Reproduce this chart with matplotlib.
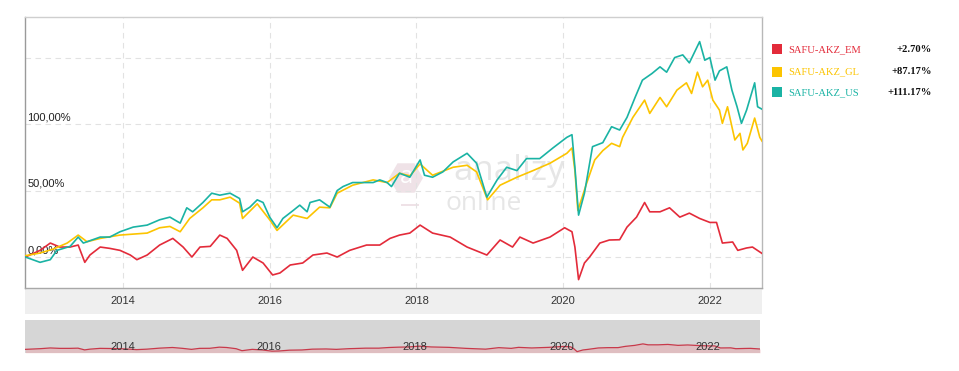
import numpy as np
import matplotlib
matplotlib.use("Agg")
import matplotlib.pyplot as plt
import matplotlib.transforms as mtransforms
from matplotlib.patches import Rectangle, Polygon

# ---------------- data (decimal years, % change) ----------------
em_dates = [2012.67, 2012.87, 2013.01, 2013.14, 2013.28, 2013.39, 2013.48, 2013.55, 2013.69, 2013.82,
            2013.96, 2014.10, 2014.19, 2014.33, 2014.50, 2014.68, 2014.82, 2014.94, 2015.05, 2015.19,
            2015.32, 2015.42, 2015.55, 2015.63, 2015.77, 2015.91, 2016.04, 2016.14, 2016.28, 2016.45,
            2016.59, 2016.78, 2016.92, 2017.09, 2017.32, 2017.50, 2017.64, 2017.77, 2017.91, 2018.05,
            2018.22, 2018.46, 2018.69, 2018.96, 2019.14, 2019.31, 2019.41, 2019.59, 2019.82, 2020.02,
            2020.12, 2020.16, 2020.21, 2020.29, 2020.36, 2020.50, 2020.63, 2020.77, 2020.87, 2021.00,
            2021.11, 2021.18, 2021.32, 2021.45, 2021.59, 2021.72, 2021.86, 2022.00, 2022.09, 2022.17,
            2022.31, 2022.38, 2022.50, 2022.58, 2022.71]
em_values = [0, 5, 10.5, 7.5, 7.5, 9, -4, 1.5, 7.5, 6.5,
             5, 1.5, -2, 1.5, 9, 14, 7.5, 0, 7.5, 8,
             16.5, 14, 5, -10, 0, -4.5, -13.5, -12, -6, -4.5,
             1.5, 3, 0, 5, 9, 9, 14, 16.5, 18, 24,
             18, 15, 7.5, 1.5, 12.8, 7.5, 15, 10.5, 15, 22,
             19, 7.5, -17, -4.5, 0, 10.5, 12.8, 13, 22.5, 30,
             41, 34, 34, 37, 30, 33, 29, 26, 26, 10.5,
             11.3, 5, 6.8, 7.5, 2.7]

gl_dates = [2012.67, 2012.87, 2013.05, 2013.24, 2013.39, 2013.51, 2013.69, 2013.96, 2014.33, 2014.50,
            2014.64, 2014.78, 2014.91, 2015.09, 2015.21, 2015.32, 2015.46, 2015.59, 2015.63, 2015.83,
            2016.00, 2016.10, 2016.32, 2016.51, 2016.68, 2016.82, 2016.92, 2017.13, 2017.41, 2017.60,
            2017.77, 2017.91, 2018.05, 2018.22, 2018.50, 2018.69, 2018.82, 2018.97, 2019.14, 2019.37,
            2019.59, 2019.82, 2020.05, 2020.12, 2020.16, 2020.20, 2020.32, 2020.43, 2020.54, 2020.66,
            2020.77, 2020.81, 2020.95, 2021.11, 2021.18, 2021.32, 2021.41, 2021.55, 2021.68, 2021.75,
            2021.83, 2021.90, 2021.97, 2022.04, 2022.13, 2022.17, 2022.24, 2022.34, 2022.41, 2022.45,
            2022.51, 2022.61, 2022.68, 2022.71]
gl_values = [1, 3, 6, 10.5, 16.5, 11.5, 14, 16.5, 18, 22,
             23, 19, 29, 37, 43, 43, 45, 40.5, 29, 40,
             28, 20, 31.5, 29, 37.5, 37, 48, 54, 58, 56,
             63, 61, 70, 61.5, 67.5, 69, 64, 43, 54, 60,
             65, 70.5, 78, 82, 65, 35, 55.5, 73, 80, 85.5,
             83, 90, 105, 118, 108, 120, 113, 125.5, 131, 123,
             139, 128, 133, 118, 110.5, 100.5, 113, 88, 93, 80.5,
             85.5, 104.5, 90, 87.17]

us_dates = [2012.67, 2012.87, 2013.01, 2013.10, 2013.28, 2013.39, 2013.46, 2013.69, 2013.82, 2013.96,
            2014.14, 2014.33, 2014.50, 2014.64, 2014.78, 2014.87, 2014.95, 2015.09, 2015.21, 2015.32,
            2015.46, 2015.59, 2015.63, 2015.73, 2015.83, 2015.91, 2016.00, 2016.10, 2016.18, 2016.32,
            2016.41, 2016.51, 2016.55, 2016.68, 2016.82, 2016.92, 2017.00, 2017.13, 2017.27, 2017.41,
            2017.50, 2017.60, 2017.66, 2017.77, 2017.91, 2018.05, 2018.11, 2018.22, 2018.36, 2018.50,
            2018.69, 2018.82, 2018.96, 2019.10, 2019.23, 2019.37, 2019.50, 2019.68, 2019.86, 2020.05,
            2020.12, 2020.16, 2020.21, 2020.29, 2020.40, 2020.54, 2020.66, 2020.77, 2020.87, 2020.98,
            2021.08, 2021.21, 2021.32, 2021.41, 2021.52, 2021.63, 2021.72, 2021.86, 2021.93, 2022.00,
            2022.07, 2022.13, 2022.23, 2022.30, 2022.37, 2022.43, 2022.50, 2022.61, 2022.65, 2022.71]
us_values = [0, -4, -2, 5, 8, 15, 10.5, 15, 15, 19,
             22.5, 24, 28, 30, 25.5, 37, 34, 41, 48, 46.5,
             48, 44, 34, 37.5, 43, 41, 30, 22, 29, 35,
             39, 34, 41, 43, 37.5, 50, 53, 56, 56, 56,
             58, 56, 53, 63, 60, 73, 61.5, 60, 64, 71.5,
             78, 70.5, 45, 58, 67.5, 65, 74, 74, 82, 90,
             92, 67.5, 31.5, 48, 83, 86, 98, 95.5, 105, 120,
             133, 138, 143, 139, 150, 152, 146, 162, 148, 150,
             133, 140, 143, 125.5, 113, 100.5, 110.5, 131, 113, 111.17]

series_names = ["SAFU-AKZ_EM", "SAFU-AKZ_GL", "SAFU-AKZ_US"]
series_returns = ["+2.70%", "+87.17%", "+111.17%"]
series_colors = ["#e32b3a", "#fcc400", "#1ab3a4"]

year_ticks = [2014, 2016, 2018, 2020, 2022]
grid_years = [2014, 2016, 2018, 2020, 2022]
y_grid = [0, 50, 100, 150]
y_labels = {0: "0,00%", 50: "50,00%", 100: "100,00%"}

# ---------------- figure ----------------
W, H = 959, 371
fig = plt.figure(figsize=(W / 100, H / 100), dpi=100)
fig.patch.set_facecolor("white")

SANS = ["Liberation Sans", "DejaVu Sans"]
SERIF = ["Liberation Serif", "DejaVu Serif"]

# x-axis label band
band = fig.add_axes([25 / W, 1 - 314 / H, 737 / W, 26 / H], facecolor="#efefef", zorder=0)
band.set_xticks([]); band.set_yticks([])
for s in band.spines.values():
    s.set_visible(False)

# main axes
ax = fig.add_axes([25 / W, 1 - 288 / H, 737 / W, 271 / H], zorder=2)
ax.set_xlim(2012.665, 2022.71)
ax.set_ylim(-23.3, 180.5)
ax.set_yticks(y_grid)
ax.set_xticks(grid_years)
ax.set_xticklabels([str(y) for y in year_ticks], fontsize=8, color="#333333",
                   family=SANS)
ax.tick_params(axis="x", length=0, pad=6)
ax.tick_params(axis="y", length=0, labelleft=False)
ax.grid(True, color="#e2e2e2", linestyle=(0, (5, 4)), linewidth=0.8)
ax.set_axisbelow(True)
ax.spines["left"].set_color("#9a9a9a")
ax.spines["bottom"].set_color("#a8a8a8")
ax.spines["top"].set_color("#cfcfcf")
ax.spines["right"].set_color("#b8b8b8")
for s in ax.spines.values():
    s.set_linewidth(1.0)

# watermark (decorative logo)
ax.text(0.657, 0.43, "analizy", transform=ax.transAxes, fontsize=25, color="#e6e6e6",
        family=["Open Sans", "DejaVu Sans"], ha="center", va="center", zorder=0.5)
ax.text(0.623, 0.31, "online", transform=ax.transAxes, fontsize=19, color="#e6e6e6",
        family=["Open Sans", "DejaVu Sans"], ha="center", va="center", zorder=0.5)
ang = np.deg2rad(np.arange(0, 360, 60))
hex_px = np.column_stack([406 + 17 * np.cos(ang), 178 + 17 * np.sin(ang)])
hex_fig = np.column_stack([hex_px[:, 0] / W, 1 - hex_px[:, 1] / H])
ax.add_patch(Polygon(hex_fig, closed=True, transform=fig.transFigure,
                     facecolor="#efe2e7", edgecolor="none", zorder=0.5))
ax.text(406 / W, 1 - 177 / H, "a", transform=fig.transFigure, fontsize=17, color="white",
        ha="center", va="center", family=["Open Sans", "DejaVu Sans"], zorder=0.6)
ax.add_patch(Rectangle((401 / W, 1 - 206 / H), 18 / W, 2 / H, transform=fig.transFigure,
                       facecolor="#efe2e7", edgecolor="none", zorder=0.5))

# y labels inside plot
ytrans = mtransforms.blended_transform_factory(ax.transAxes, ax.transData)
for val, lab in y_labels.items():
    ax.text(0.003, val + 1.5, lab, transform=ytrans, fontsize=8, color="#222222",
            family=SANS, ha="left", va="bottom", zorder=1)

# lines
ax.plot(em_dates, em_values, color=series_colors[0], lw=1.2, zorder=3)
ax.plot(gl_dates, gl_values, color=series_colors[1], lw=1.2, zorder=3)
ax.plot(us_dates, us_values, color=series_colors[2], lw=1.2, zorder=4)

# navigator
nav = fig.add_axes([25 / W, 1 - 352.7 / H, 735 / W, 32.7 / H], facecolor="#d6d6d6", zorder=1)
nav.set_xlim(2012.665, 2022.71)
nav.set_ylim(-25, 220)
nav.fill_between(em_dates, em_values, -25, color="#e8a7ad", alpha=0.5, lw=0)
nav.plot(em_dates, em_values, color="#c8394a", lw=0.9)
nav.set_xticks([]); nav.set_yticks([])
for s in nav.spines.values():
    s.set_visible(False)
ntrans = mtransforms.blended_transform_factory(nav.transData, nav.transAxes)
for y in year_ticks:
    nav.text(y, 0.17, str(y), transform=ntrans, fontsize=8, color="#333333",
             family=SANS, ha="center", va="center")

# legend
row_y = [49.3, 71.7, 92.3]
for name, ret, col, ry in zip(series_names, series_returns, series_colors, row_y):
    fig.add_artist(Rectangle((772 / W, 1 - (ry + 5) / H), 10 / W, 10 / H,
                             transform=fig.transFigure, facecolor=col, edgecolor="none"))
    fig.text(788 / W, 1 - ry / H, name, fontsize=7.6, color=col, family=SERIF,
             ha="left", va="center")
    fig.text(932 / W, 1 - ry / H, ret, fontsize=7.6, color="#111111", family=SERIF,
             ha="right", va="center", fontweight="bold")

fig.savefig("out.png", dpi=100, facecolor="white")
